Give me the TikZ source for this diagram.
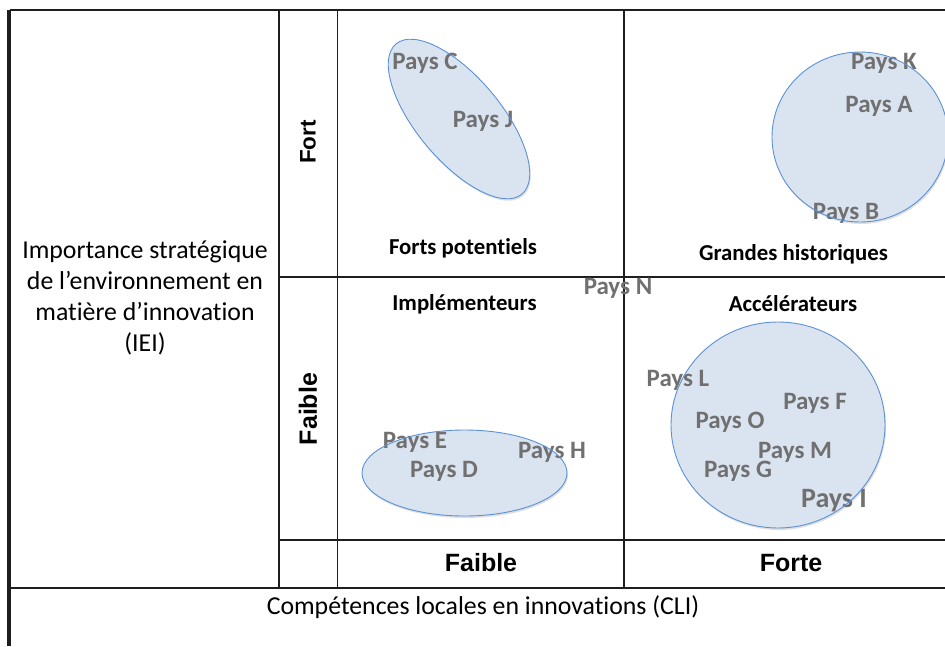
\documentclass[tikz,border=0pt]{standalone}
\usepackage{fontspec}
\setmainfont{Carlito}[Ligatures=NoCommon]
\newfontfamily\arialf{Liberation Sans}
\usetikzlibrary{shapes.geometric,shadows}
\definecolor{blobfillc}{RGB}{218,227,240}
\definecolor{bloblinec}{RGB}{91,146,214}
\definecolor{paysc}{RGB}{112,112,112}
\definecolor{gridc}{RGB}{30,30,30}
\tikzset{
  grid thin/.style={draw=gridc, line width=1.2pt},
  grid thick/.style={draw=gridc, line width=2pt},
  blobfill/.style={ellipse, fill=blobfillc, draw=none, inner sep=0pt,
     drop shadow={shadow xshift=1pt, shadow yshift=-2pt, opacity=0.25}},
  blobline/.style={ellipse, draw=bloblinec, line width=0.9pt, inner sep=0pt},
  pays/.style={text=paysc, font=\fontsize{25}{30}\selectfont\bfseries, inner sep=0pt},
  quadtitle/.style={font=\fontsize{22.8}{27}\selectfont\bfseries, inner sep=0pt},
  axislab/.style={font=\arialf\fontsize{25}{30}\selectfont\bfseries, inner sep=0pt},
  bodytext/.style={font=\fontsize{25.8}{31}\selectfont, inner sep=0pt, align=center}
}
\begin{document}
\begin{tikzpicture}[x=1pt,y=-1pt]
\useasboundingbox (0,0) rectangle (945,646);
% ellipse fills
\node[blobfill, minimum width=196pt, minimum height=84pt, rotate=-50] at (459,119) {};
\node[blobfill, minimum width=176pt, minimum height=170pt] at (860,137) {};
\node[blobfill, minimum width=205pt, minimum height=86pt] at (464.5,473) {};
\node[blobfill, minimum width=214pt, minimum height=206pt] at (778,425) {};
% grid
\draw[grid thick] (10,10) -- (945,10);
\draw[draw=gridc, line width=3.5pt] (9,10) -- (9,646);
\draw[grid thin] (279,10) -- (279,588);
\draw[grid thin] (337.5,10) -- (337.5,588);
\draw[grid thin] (624,10) -- (624,588);
\draw[grid thin] (279,277) -- (945,277);
\draw[grid thin] (279,540) -- (945,540);
\draw[grid thick] (9,588) -- (945,588);
% texts
\node[bodytext] (iei) at (145,298) {Importance stratégique\\de l’environnement  en\\matière d’innovation\\(IEI)};
\node[bodytext] (cli) at (483,607) {Compétences  locales en innovations (CLI)};
\node[axislab, rotate=90, font=\arialf\fontsize{22.5}{27}\selectfont\bfseries] (fort) at (308,142) {Fort};
\node[axislab, rotate=90] (faibley) at (308,409) {Faible};
\node[axislab] (faiblex) at (481,563) {Faible};
\node[axislab] (fortex) at (791,563) {Forte};
\node[quadtitle] (fp) at (463,248) {Forts potentiels};
\node[quadtitle] (gh) at (793.5,254) {Grandes historiques};
\node[quadtitle] (imp) at (464.5,304) {Implémenteurs};
\node[quadtitle] (acc) at (793,304) {Accélérateurs};
% pays
\node[pays] (pc) at (425,63) {Pays C};
\node[pays] (pj) at (483,121) {Pays J};
\node[pays] (pk) at (884,63) {Pays K};
\node[pays] (pa) at (879,106) {Pays A};
\node[pays] (pb) at (846,213) {Pays B};
\node[pays] (pn) at (618,288) {Pays N};
\node[pays] (pe) at (415,442) {Pays E};
\node[pays] (pd) at (444,471) {Pays D};
\node[pays] (ph) at (552,452) {Pays H};
\node[pays] (pl) at (678,380) {Pays L};
\node[pays] (pf) at (815,403) {Pays F};
\node[pays] (po) at (730,422) {Pays O};
\node[pays] (pm) at (795,452) {Pays M};
\node[pays] (pg) at (738,471) {Pays G};
\node[pays, font=\fontsize{28}{33}\selectfont\bfseries] (pi) at (834,501) {Pays I};
% ellipse outlines
\node[blobline, minimum width=196pt, minimum height=84pt, rotate=-50] (ecj) at (459,119) {};
\node[blobline, minimum width=176pt, minimum height=170pt] (ekab) at (860,137) {};
\node[blobline, minimum width=205pt, minimum height=86pt] (edeh) at (464.5,473) {};
\node[blobline, minimum width=214pt, minimum height=206pt] (efm) at (778,425) {};
\end{tikzpicture}
\end{document}
